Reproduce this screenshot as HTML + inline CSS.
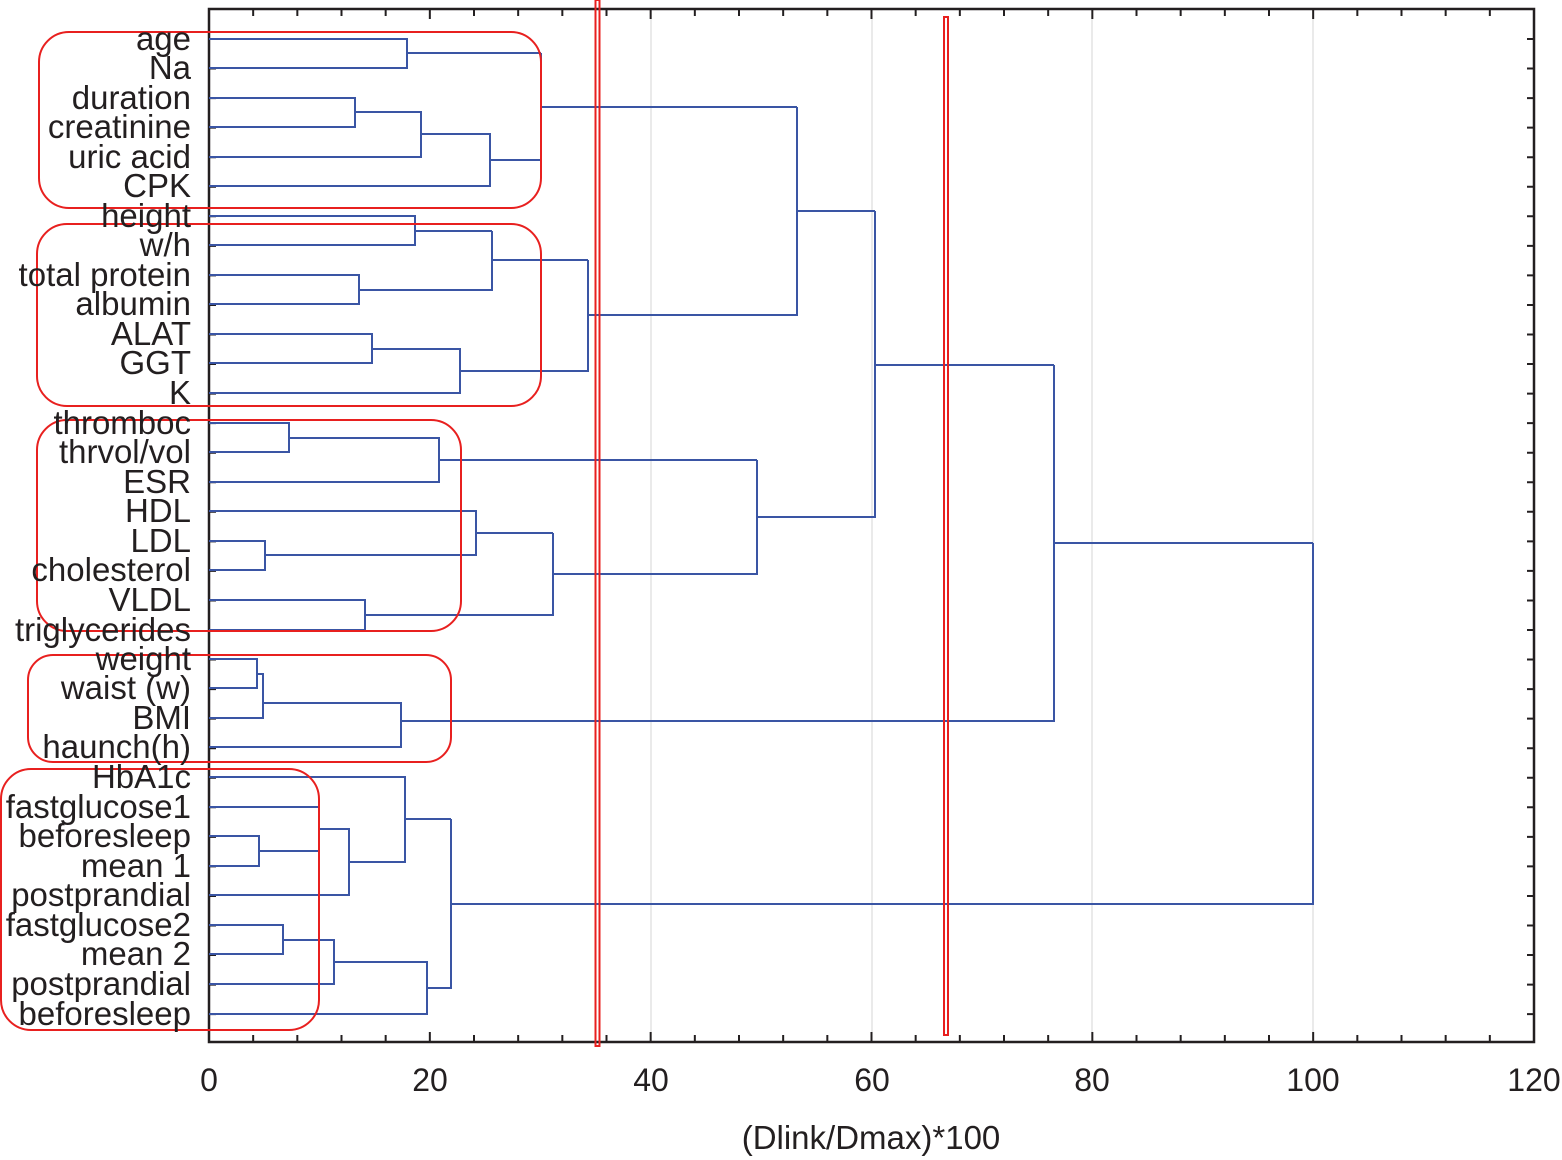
<!DOCTYPE html>
<html><head><meta charset="utf-8"><style>
html,body{margin:0;padding:0;background:#fff}
svg{display:block}
text{font-family:"Liberation Sans",Arial,sans-serif;fill:#231f20}
</style></head><body>
<svg id="s" width="1562" height="1160" viewBox="0 0 1562 1160" xmlns="http://www.w3.org/2000/svg">
<g stroke="#d4d4d4" stroke-width="1">
<line x1="651" y1="9" x2="651" y2="1042"/>
<line x1="872" y1="9" x2="872" y2="1042"/>
<line x1="1092" y1="9" x2="1092" y2="1042"/>
<line x1="1313" y1="9" x2="1313" y2="1042"/>
</g>
<g id="ticks" stroke="#231f20" stroke-width="2"></g>
<rect x="209" y="9" width="1325" height="1033" fill="none" stroke="#231f20" stroke-width="2.5"/>
<g fill="none" stroke="#3a55a4" stroke-width="2" id="dendro">
<path d="M209 39H407V68H209M407 53H541"/>
<path d="M209 98H355V127H209M355 112H421V157H209M421 134H490V186H209M490 160H541V53"/>
<path d="M541 107H797"/>
<path d="M209 216H415V245H209M415 231H492"/>
<path d="M209 275H359V304H209M359 290H492V231M492 260H588"/>
<path d="M209 334H372V363H209M372 349H460V393H209M460 371H588V260M588 315H797V107M797 211H875"/>
<path d="M209 423H289V452H209M289 438H439V482H209M439 460H757"/>
<path d="M209 541H265V570H209M265 555H476V511H209M476 533H553"/>
<path d="M209 600H365V630H209M365 615H553V533M553 574H757V460M757 517H875V211M875 365H1054"/>
<path d="M209 659H257V688H209M257 674H263V718H209M263 703H401V747H209M401 721H1054V365M1054 543H1313"/>
<path d="M209 836H259V866H209M259 851H319V807H209M319 829H349V895H209M349 862H405V777H209M405 819H451"/>
<path d="M209 925H283V954H209M283 940H334V984H209M334 962H427V1014H209M427 988H451V819M451 904H1313V543"/>
</g>
<g fill="none" stroke="#e8201f" stroke-width="2">
<rect x="39" y="32" width="502" height="176" rx="30"/>
<rect x="37" y="224" width="504" height="182" rx="30"/>
<rect x="37" y="420" width="424" height="211" rx="30"/>
<rect x="28" y="655" width="423" height="107" rx="25"/>
<rect x="1" y="769" width="318" height="261" rx="30"/>
<rect x="595.5" y="0" width="4" height="1046"/>
<rect x="944" y="17" width="4" height="1018"/>
</g>
<g font-size="33" text-anchor="end">
<text x="191" y="50">age</text>
<text x="191" y="79">Na</text>
<text x="191" y="109">duration</text>
<text x="191" y="138">creatinine</text>
<text x="191" y="168">uric acid</text>
<text x="191" y="197">CPK</text>
<text x="191" y="227">height</text>
<text x="191" y="256">w/h</text>
<text x="191" y="286">total protein</text>
<text x="191" y="315">albumin</text>
<text x="191" y="345">ALAT</text>
<text x="191" y="374">GGT</text>
<text x="191" y="404">K</text>
<text x="191" y="434">thromboc</text>
<text x="191" y="463">thrvol/vol</text>
<text x="191" y="493">ESR</text>
<text x="191" y="522">HDL</text>
<text x="191" y="552">LDL</text>
<text x="191" y="581">cholesterol</text>
<text x="191" y="611">VLDL</text>
<text x="191" y="641">triglycerides</text>
<text x="191" y="670">weight</text>
<text x="191" y="699">waist (w)</text>
<text x="191" y="729">BMI</text>
<text x="191" y="758">haunch(h)</text>
<text x="191" y="788">HbA1c</text>
<text x="191" y="818">fastglucose1</text>
<text x="191" y="847">beforesleep</text>
<text x="191" y="877">mean 1</text>
<text x="191" y="906">postprandial</text>
<text x="191" y="936">fastglucose2</text>
<text x="191" y="965">mean 2</text>
<text x="191" y="995">postprandial</text>
<text x="191" y="1025">beforesleep</text>
</g>
<g font-size="32" text-anchor="middle">
<text x="209" y="1091">0</text>
<text x="430" y="1091">20</text>
<text x="651" y="1091">40</text>
<text x="872" y="1091">60</text>
<text x="1092" y="1091">80</text>
<text x="1313" y="1091">100</text>
<text x="1534" y="1091">120</text>
<text x="871" y="1149" font-size="33">(Dlink/Dmax)*100</text>
</g>
</svg>
<script>
var g=document.getElementById('ticks'),d='';
for(var i=0;i<=30;i++){var x=209+i*1325/30,l=(i%5==0)?10:7;d+='M'+x+' 1042v-'+l+'M'+x+' 9v'+l;}
for(var i=0;i<34;i++){var y=39+i*29.55;d+='M209 '+y+'h7M1534 '+y+'h-7';}
var p=document.createElementNS('http://www.w3.org/2000/svg','path');p.setAttribute('d',d);g.appendChild(p);
</script>
</body></html>
